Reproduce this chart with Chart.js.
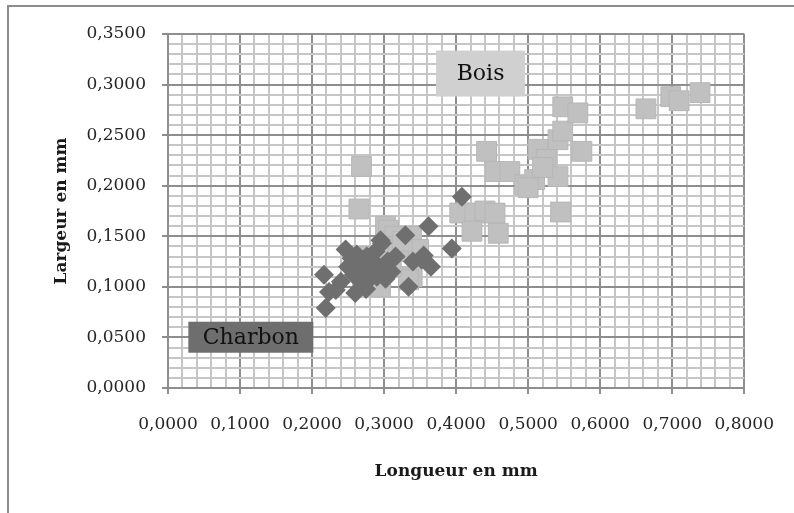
<!DOCTYPE html>
<html>
<head>
<meta charset="utf-8">
<script src="https://cdn.jsdelivr.net/npm/chart.js@4"></script>
<style>
  html, body { margin: 0; padding: 0; background: #fff; }
  #wrap { position: absolute; left: 0; top: 0; width: 794px; height: 513px; }
</style>
</head>
<body>
<div id="wrap"><canvas id="grainChart" width="794" height="513"></canvas></div>
<script>
// Bois (wood) : longueur / largeur en mm
var boisX = [0.2687, 0.265, 0.302, 0.306, 0.315, 0.338, 0.348, 0.339, 0.334, 0.280,
             0.290, 0.300, 0.320, 0.325, 0.310, 0.260, 0.270, 0.295, 0.405, 0.426,
             0.440, 0.454, 0.422, 0.4585, 0.4423, 0.454, 0.4746, 0.4954, 0.509, 0.5138,
             0.525, 0.5414, 0.5414, 0.548, 0.5746, 0.545, 0.548, 0.569, 0.6635, 0.698,
             0.7096, 0.7386, 0.500, 0.520];
var boisY = [0.219, 0.177, 0.160, 0.156, 0.150, 0.150, 0.137, 0.110, 0.107, 0.130,
             0.125, 0.140, 0.135, 0.145, 0.120, 0.115, 0.110, 0.100, 0.173, 0.173,
             0.175, 0.173, 0.155, 0.153, 0.234, 0.214, 0.214, 0.201, 0.206, 0.236,
             0.226, 0.209, 0.2455, 0.254, 0.234, 0.174, 0.278, 0.272, 0.276, 0.288,
             0.284, 0.292, 0.198, 0.218];

// Charbon (charcoal)
var charbonX = [0.219, 0.2166, 0.2235, 0.233, 0.240, 0.2466, 0.250, 0.255, 0.258, 0.260,
                0.262, 0.265, 0.268, 0.270, 0.272, 0.275, 0.276, 0.278, 0.280, 0.283,
                0.285, 0.288, 0.290, 0.292, 0.295, 0.297, 0.300, 0.302, 0.305, 0.310,
                0.316, 0.274, 0.3295, 0.334, 0.340, 0.352, 0.355, 0.3617, 0.365, 0.394,
                0.408];
var charbonY = [0.079, 0.112, 0.095, 0.097, 0.105, 0.137, 0.120, 0.128, 0.112, 0.094,
                0.132, 0.118, 0.105, 0.125, 0.112, 0.098, 0.130, 0.120, 0.108, 0.115,
                0.125, 0.135, 0.110, 0.120, 0.146, 0.143, 0.118, 0.108, 0.125, 0.115,
                0.130, 0.104, 0.151, 0.100, 0.125, 0.127, 0.131, 0.160, 0.120, 0.138,
                0.189];

var xTicks = [0, 0.1, 0.2, 0.3, 0.4, 0.5, 0.6, 0.7, 0.8];
var yTicks = [0, 0.05, 0.1, 0.15, 0.2, 0.25, 0.3, 0.35];

// text boxes placed in data units
var seriesLabels = [
  { text: 'Bois', x: 0.4339, y: 0.3109, w: 89, h: 46, fill: '#d0d0d0' },
  { text: 'Charbon', x: 0.1150, y: 0.0502, w: 125, h: 31, fill: '#6e6e6e' }
];

function toPoints(xs, ys) {
  return xs.map(function(v, i) { return { x: v, y: ys[i] }; });
}

function isMajor(v, list) {
  return list.some(function(t) { return Math.abs(t - v) < 1e-7; });
}

function fmt(v) {
  return v.toFixed(4).replace('.', ',');
}

var serif = "'DejaVu Serif', serif";

var framePlugin = {
  id: 'frame',
  beforeDraw: function(chart) {
    var ctx = chart.ctx;
    ctx.save();
    ctx.fillStyle = '#ffffff';
    ctx.fillRect(0, 0, chart.width, chart.height);
    ctx.strokeStyle = '#8c8c8c';
    ctx.lineWidth = 2;
    ctx.beginPath();
    ctx.moveTo(8, chart.height);
    ctx.lineTo(8, 6);
    ctx.lineTo(chart.width, 6);
    ctx.stroke();
    ctx.restore();
  }
};

var labelPlugin = {
  id: 'seriesLabels',
  afterDatasetsDraw: function(chart) {
    var ctx = chart.ctx;
    var xs = chart.scales.x, ys = chart.scales.y;
    ctx.save();
    seriesLabels.forEach(function(l) {
      var cx = xs.getPixelForValue(l.x);
      var cy = ys.getPixelForValue(l.y);
      ctx.fillStyle = l.fill;
      ctx.fillRect(cx - l.w / 2, cy - l.h / 2, l.w, l.h);
      ctx.fillStyle = '#111111';
      ctx.font = '22px ' + serif;
      ctx.textAlign = 'center';
      ctx.textBaseline = 'middle';
      ctx.fillText(l.text, cx, cy + 1);
    });
    ctx.restore();
  }
};

var ctx = document.getElementById('grainChart').getContext('2d');
var grainChart = new Chart(ctx, {
  type: 'scatter',
  data: {
    datasets: [{
      label: 'Bois',
      data: toPoints(boisX, boisY),
      pointStyle: 'rect',
      pointRadius: 14,
      pointHoverRadius: 14,
      backgroundColor: '#c0c0c0',
      borderColor: '#b6b6b6',
      borderWidth: 1,
      order: 2
    }, {
      label: 'Charbon',
      data: toPoints(charbonX, charbonY),
      pointStyle: 'rectRot',
      pointRadius: 10,
      pointHoverRadius: 10,
      backgroundColor: '#6f6f6f',
      borderColor: '#6f6f6f',
      borderWidth: 0,
      order: 1
    }]
  },
  options: {
    responsive: false,
    animation: false,
    layout: { padding: { left: 0, top: 34, right: 47, bottom: 0 } },
    plugins: {
      legend: { display: false },
      tooltip: { enabled: false }
    },
    scales: {
      x: {
        type: 'linear',
        min: 0,
        max: 0.8,
        afterFit: function(scale) { scale.height = 125; },
        ticks: {
          stepSize: 0.02,
          autoSkip: false,
          maxRotation: 0,
          padding: 20,
          color: '#262626',
          font: { family: serif, size: 17 },
          callback: function(v) { return isMajor(v, xTicks) ? fmt(v) : ''; }
        },
        grid: {
          tickLength: 6,
          lineWidth: 2,
          color: function(c) { return isMajor(c.tick.value, xTicks) ? '#8e8e8e' : '#c6c6c6'; },
          tickColor: function(c) { return isMajor(c.tick.value, xTicks) ? '#8e8e8e' : 'rgba(0,0,0,0)'; }
        },
        border: { color: '#8e8e8e', width: 2 },
        title: {
          display: true,
          text: 'Longueur en mm',
          color: '#1a1a1a',
          font: { family: serif, size: 17, weight: 'bold' },
          padding: { top: 0, bottom: 31 }
        }
      },
      y: {
        type: 'linear',
        min: 0,
        max: 0.35,
        afterFit: function(scale) { scale.width = 168; },
        ticks: {
          stepSize: 0.01,
          autoSkip: false,
          padding: 16,
          color: '#262626',
          font: { family: serif, size: 17 },
          callback: function(v) { return isMajor(v, yTicks) ? fmt(v) : ''; }
        },
        grid: {
          tickLength: 6,
          lineWidth: 2,
          color: function(c) { return isMajor(c.tick.value, yTicks) ? '#8e8e8e' : '#c6c6c6'; },
          tickColor: function(c) { return isMajor(c.tick.value, yTicks) ? '#8e8e8e' : 'rgba(0,0,0,0)'; }
        },
        border: { color: '#8e8e8e', width: 2 },
        title: {
          display: true,
          text: 'Largeur en mm',
          color: '#1a1a1a',
          font: { family: serif, size: 17, weight: 'bold' },
          padding: { top: 51, bottom: 0 }
        }
      }
    }
  },
  plugins: [framePlugin, labelPlugin]
});
</script>
</body>
</html>
